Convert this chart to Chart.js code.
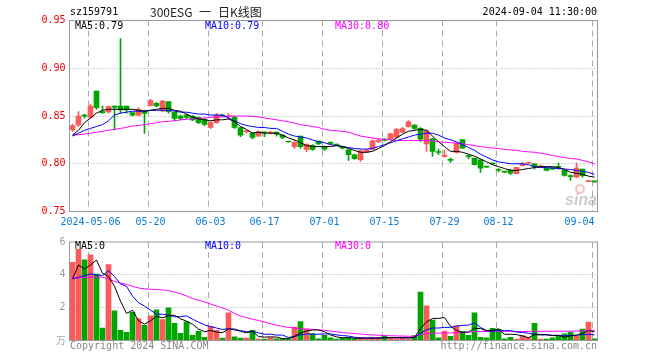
<!DOCTYPE html>
<html>
<head>
<meta charset="utf-8">
<script src="https://cdn.jsdelivr.net/npm/chart.js@4.4.1/dist/chart.umd.min.js"></script>
<style>
html, body { margin: 0; padding: 0; background: #fff; }
#wrap { position: relative; width: 660px; height: 360px; }
#kline { position: absolute; left: 0; top: 0; }
#vol { position: absolute; left: 0; top: 232px; }
</style>
</head>
<body>
<div id="wrap">
  <canvas id="kline" width="660" height="232"></canvas>
  <canvas id="vol" width="660" height="128"></canvas>
</div>
<script>
// trading days shown (2024)
const dates = [
  '04-26','04-29','04-30','05-06','05-07','05-08','05-09','05-10','05-13','05-14',
  '05-15','05-16','05-17','05-20','05-21','05-22','05-23','05-24','05-27','05-28',
  '05-29','05-30','05-31','06-03','06-04','06-05','06-06','06-07','06-11','06-12',
  '06-13','06-14','06-17','06-18','06-19','06-20','06-21','06-24','06-25','06-26',
  '06-27','06-28','07-01','07-02','07-03','07-04','07-05','07-08','07-09','07-10',
  '07-11','07-12','07-15','07-16','07-17','07-18','07-19','07-22','07-23','07-24',
  '07-25','07-26','07-29','07-30','07-31','08-01','08-02','08-05','08-06','08-07',
  '08-08','08-12','08-13','08-14','08-15','08-16','08-19','08-20','08-21','08-22',
  '08-23','08-26','08-27','08-28','08-29','08-30','09-03','09-04'
];

const openP = [
  0.8357,0.8406,0.8510,0.8486,0.8762,0.8545,0.8542,0.8605,0.8605,0.8605,
  0.8535,0.8510,0.8552,0.8612,0.8633,0.8552,0.8650,0.8538,0.8500,0.8510,
  0.8500,0.8486,0.8465,0.8381,0.8430,0.8510,0.8495,0.8486,0.8378,0.8336,
  0.8325,0.8290,0.8332,0.8322,0.8332,0.8300,0.8232,0.8178,0.8290,0.8150,
  0.8193,0.8238,0.8180,0.8218,0.8198,0.8180,0.8146,0.8094,0.8042,0.8122,
  0.8153,0.8233,0.8257,0.8257,0.8278,0.8330,0.8389,0.8406,0.8371,0.8208,
  0.8260,0.8125,0.8076,0.8040,0.8118,0.8252,0.8080,0.8060,0.8042,0.7967,
  0.8002,0.7938,0.7914,0.7937,0.7895,0.7980,0.8005,0.8000,0.7962,0.7955,
  0.7960,0.7967,0.7930,0.7870,0.7860,0.7944,0.7812,0.7812
];
const highP = [
  0.8416,0.8545,0.8520,0.8626,0.8762,0.8605,0.8605,0.8605,0.9310,0.8605,
  0.8535,0.8587,0.8563,0.8678,0.8643,0.8664,0.8650,0.8538,0.8510,0.8520,
  0.8505,0.8490,0.8475,0.8441,0.8528,0.8520,0.8528,0.8500,0.8378,0.8350,
  0.8325,0.8346,0.8336,0.8340,0.8332,0.8300,0.8232,0.8248,0.8290,0.8207,
  0.8200,0.8240,0.8185,0.8230,0.8205,0.8185,0.8146,0.8100,0.8146,0.8150,
  0.8250,0.8260,0.8260,0.8320,0.8370,0.8382,0.8451,0.8410,0.8380,0.8354,
  0.8265,0.8153,0.8146,0.8060,0.8222,0.8252,0.8094,0.8060,0.8042,0.7968,
  0.8005,0.7950,0.7915,0.7944,0.7962,0.8014,0.8008,0.8000,0.7985,0.7958,
  0.7962,0.8007,0.7930,0.7885,0.8007,0.7944,0.7818,0.7812
];
const lowP = [
  0.8336,0.8388,0.8480,0.8476,0.8570,0.8528,0.8530,0.8353,0.8530,0.8530,
  0.8500,0.8500,0.8318,0.8605,0.8594,0.8545,0.8530,0.8450,0.8460,0.8470,
  0.8450,0.8420,0.8400,0.8370,0.8423,0.8490,0.8465,0.8370,0.8283,0.8320,
  0.8260,0.8287,0.8283,0.8310,0.8290,0.8260,0.8225,0.8160,0.8160,0.8126,
  0.8140,0.8200,0.8140,0.8205,0.8190,0.8155,0.8035,0.8045,0.8024,0.8118,
  0.8146,0.8220,0.8240,0.8250,0.8268,0.8325,0.8382,0.8360,0.8233,0.8128,
  0.8076,0.8094,0.8070,0.8014,0.8112,0.8160,0.8050,0.7985,0.7910,0.7962,
  0.7995,0.7915,0.7910,0.7885,0.7895,0.7975,0.8002,0.7944,0.7960,0.7925,
  0.7940,0.7944,0.7870,0.7825,0.7855,0.7860,0.7812,0.7808
];
const closeP = [
  0.8399,0.8500,0.8497,0.8605,0.8587,0.8535,0.8598,0.8591,0.8563,0.8563,
  0.8510,0.8570,0.8528,0.8661,0.8605,0.8657,0.8545,0.8475,0.8475,0.8486,
  0.8458,0.8430,0.8413,0.8430,0.8510,0.8500,0.8500,0.8381,0.8300,0.8346,
  0.8276,0.8336,0.8322,0.8328,0.8310,0.8276,0.8228,0.8224,0.8178,0.8207,
  0.8150,0.8207,0.8153,0.8213,0.8195,0.8163,0.8094,0.8052,0.8135,0.8146,
  0.8240,0.8247,0.8247,0.8313,0.8361,0.8368,0.8438,0.8371,0.8257,0.8344,
  0.8128,0.8118,0.8087,0.8036,0.8215,0.8164,0.8075,0.7990,0.7955,0.7964,
  0.7998,0.7932,0.7912,0.7902,0.7962,0.8000,0.8007,0.7970,0.7979,0.7930,
  0.7944,0.7963,0.7878,0.7865,0.7955,0.7874,0.7816,0.7810
];

const ma5 = [
  0.830,0.835,0.843,0.848,0.853,0.856,0.857,0.857,0.857,0.857,
  0.857,0.856,0.855,0.856,0.857,0.858,0.858,0.856,0.855,0.852,
  0.849,0.847,0.846,0.845,0.846,0.846,0.847,0.844,0.839,0.836,
  0.832,0.833,0.832,0.832,0.832,0.830,0.827,0.825,0.822,0.819,
  0.818,0.818,0.818,0.818,0.819,0.818,0.816,0.814,0.812,0.812,
  0.813,0.816,0.819,0.823,0.827,0.831,0.834,0.835,0.836,0.835,
  0.829,0.823,0.818,0.813,0.813,0.812,0.810,0.808,0.805,0.802,
  0.799,0.797,0.795,0.793,0.793,0.794,0.795,0.796,0.797,0.797,
  0.797,0.796,0.794,0.791,0.790,0.789,0.787,0.786
];
const ma10 = [
  0.829,0.832,0.835,0.837,0.839,0.841,0.845,0.851,0.853,0.854,
  0.855,0.855,0.855,0.856,0.856,0.856,0.856,0.855,0.854,0.854,
  0.853,0.852,0.852,0.851,0.851,0.851,0.848,0.845,0.842,0.840,
  0.839,0.838,0.838,0.837,0.837,0.834,0.831,0.829,0.828,0.827,
  0.825,0.823,0.822,0.820,0.819,0.818,0.817,0.816,0.8155,0.8153,
  0.816,0.818,0.820,0.822,0.824,0.826,0.828,0.830,0.831,0.832,
  0.832,0.830,0.827,0.825,0.823,0.820,0.817,0.814,0.810,0.807,
  0.804,0.802,0.801,0.800,0.800,0.800,0.799,0.797,0.796,0.796,
  0.7955,0.795,0.7945,0.794,0.793,0.792,0.791,0.789
];
const ma30 = [
  0.830,0.8305,0.831,0.832,0.833,0.834,0.835,0.836,0.837,0.838,
  0.8395,0.840,0.841,0.842,0.843,0.844,0.8445,0.845,0.846,0.8465,
  0.847,0.8475,0.848,0.8485,0.849,0.849,0.8495,0.850,0.850,0.850,
  0.8495,0.849,0.848,0.847,0.846,0.845,0.844,0.8425,0.841,0.840,
  0.839,0.838,0.836,0.835,0.8345,0.834,0.833,0.831,0.829,0.828,
  0.827,0.826,0.8257,0.825,0.8245,0.8243,0.8243,0.8243,0.8243,0.8243,
  0.824,0.823,0.8225,0.822,0.8215,0.821,0.820,0.819,0.818,0.817,
  0.8165,0.816,0.815,0.8145,0.814,0.813,0.8125,0.812,0.811,0.810,
  0.8085,0.8075,0.8065,0.8055,0.805,0.8035,0.802,0.800
];

// volume, 万
const volume = [
  4.76,5.56,4.92,5.22,4.05,0.76,4.62,1.81,0.62,0.50,
  1.71,1.34,0.92,1.51,1.87,1.28,1.99,1.04,0.44,1.14,
  0.32,0.56,0.20,0.86,0.62,0.14,1.69,0.22,0.14,0.14,
  0.62,0.08,0.08,0.18,0.10,0.10,0.12,0.82,1.16,0.70,
  0.42,0.10,0.32,0.16,0.08,0.16,0.16,0.12,0.18,0.10,
  0.18,0.18,0.28,0.18,0.10,0.18,0.10,0.30,2.95,2.11,
  1.24,0.16,0.56,0.26,0.90,0.56,0.32,1.69,0.20,0.16,
  0.74,0.70,0.10,0.20,0.08,0.30,0.18,1.04,0.08,0.08,
  0.16,0.26,0.40,0.52,0.26,0.70,1.12,0.10
];
const volMa5 = [
  3.75,4.60,4.35,4.60,4.90,4.10,3.90,3.30,2.40,1.65,
  1.85,1.20,1.00,1.20,1.47,1.38,1.51,1.54,1.32,1.18,
  0.99,0.70,0.53,0.62,0.51,0.48,0.70,0.70,0.56,0.47,
  0.56,0.24,0.21,0.22,0.21,0.11,0.12,0.26,0.46,0.58,
  0.64,0.64,0.54,0.34,0.22,0.16,0.18,0.14,0.14,0.14,
  0.15,0.15,0.18,0.18,0.18,0.18,0.17,0.19,0.73,1.13,
  1.34,1.35,1.40,0.87,0.62,0.49,0.52,0.75,0.73,0.59,
  0.62,0.70,0.38,0.38,0.36,0.28,0.17,0.36,0.34,0.34,
  0.31,0.32,0.20,0.28,0.32,0.43,0.60,0.54
];
const volMa10 = [
  3.75,3.85,3.95,4.05,4.00,3.95,4.25,3.90,3.45,3.30,
  2.70,2.30,2.10,1.85,1.60,1.60,1.55,1.45,1.45,1.50,
  1.30,1.12,0.95,0.85,0.76,0.67,0.72,0.64,0.61,0.53,
  0.56,0.47,0.38,0.38,0.33,0.33,0.18,0.24,0.34,0.40,
  0.38,0.38,0.40,0.40,0.34,0.30,0.27,0.20,0.16,0.16,
  0.15,0.14,0.16,0.17,0.16,0.16,0.16,0.18,0.45,0.65,
  0.76,0.76,0.80,0.80,0.88,0.92,0.94,1.07,0.80,0.60,
  0.56,0.61,0.60,0.60,0.51,0.49,0.44,0.38,0.37,0.36,
  0.30,0.31,0.28,0.31,0.32,0.36,0.38,0.34
];
const volMa30 = [
  3.80,3.82,3.84,3.86,3.87,3.85,3.75,3.60,3.50,3.42,
  3.30,3.20,3.15,3.12,3.10,3.08,3.05,2.95,2.85,2.72,
  2.55,2.45,2.35,2.22,2.10,1.98,1.85,1.65,1.50,1.40,
  1.30,1.22,1.12,1.02,0.93,0.86,0.80,0.76,0.72,0.70,
  0.68,0.65,0.62,0.58,0.54,0.48,0.45,0.42,0.40,0.36,
  0.34,0.32,0.30,0.29,0.28,0.27,0.26,0.26,0.36,0.42,
  0.45,0.45,0.46,0.46,0.48,0.50,0.50,0.55,0.55,0.55,
  0.56,0.57,0.56,0.56,0.55,0.55,0.55,0.57,0.56,0.56,
  0.56,0.57,0.57,0.57,0.58,0.59,0.62,0.62
];

const priceTicks = [0.75, 0.80, 0.85, 0.90, 0.95];
const volTicks = [0, 2, 4, 6];
const tickDates = ['05-06', '05-20', '06-03', '06-17', '07-01', '07-15', '07-29', '08-12', '09-04'];
const tickLabels = ['2024-05-06', '05-20', '06-03', '06-17', '07-01', '07-15', '07-29', '08-12', '09-04     '];

const RED = '#fa5a5a';
const GREEN = '#00a600';
const MONO = '10px "DejaVu Sans Mono"';

Chart.defaults.font.family = '"DejaVu Sans Mono"';
Chart.defaults.font.size = 10;

const isUp = i => closeP[i] >= openP[i];
const candleColor = c => isUp(c.dataIndex) ? RED : GREEN;
const tickIdx = tickDates.map(d => dates.indexOf(d));

// grid, frame and the texts that sit on top of the plots
const frame = {
  id: 'frame',
  beforeDatasetsDraw(chart, args, opts) {
    const {ctx, chartArea: a, scales} = chart;
    ctx.save();
    ctx.strokeStyle = '#aaa';
    ctx.lineWidth = 1;
    ctx.setLineDash([6, 4]);
    tickIdx.forEach(i => {
      const x = Math.floor(scales.x.getPixelForValue(i) - 2.5) + 0.5;
      ctx.beginPath();
      ctx.moveTo(x, a.top);
      ctx.lineTo(x, a.bottom);
      ctx.stroke();
    });
    ctx.setLineDash([1, 2]);
    opts.yTicks.slice(1, -1).forEach(v => {
      const y = Math.floor(scales.y.getPixelForValue(v)) + 0.5;
      ctx.beginPath();
      ctx.moveTo(a.left, y);
      ctx.lineTo(a.right, y);
      ctx.stroke();
    });
    ctx.setLineDash([]);
    if (opts.sina) {
      ctx.strokeStyle = 'rgba(240,120,120,0.45)';
      ctx.lineWidth = 2;
      ctx.beginPath();
      ctx.arc(580, 189, 4, 0, Math.PI * 2);
      ctx.stroke();
      ctx.font = 'bold italic 16px "Liberation Sans"';
      ctx.fillStyle = 'rgba(150,150,150,0.5)';
      ctx.fillText('sina', 565, 205);
    }
    ctx.restore();
  },
  afterDraw(chart, args, opts) {
    const {ctx, chartArea: a} = chart;
    ctx.save();
    ctx.strokeStyle = '#999';
    ctx.lineWidth = 1;
    ctx.strokeRect(a.left, a.top, a.right - a.left, a.bottom - a.top);
    ctx.textBaseline = 'middle';
    (opts.texts || []).forEach(t => {
      ctx.font = t.font || MONO;
      ctx.fillStyle = t.color;
      ctx.textAlign = t.align || 'left';
      ctx.fillText(t.text, t.x, t.y);
    });
    ctx.restore();
  }
};

const CJK = '12px "Noto Sans CJK SC"';

new Chart(document.getElementById('kline'), {
  type: 'bar',
  data: {
    labels: dates,
    datasets: [
      { type: 'line', data: ma5, borderColor: '#000', borderWidth: 1, pointRadius: 0, order: 0 },
      { type: 'line', data: ma10, borderColor: '#0000ff', borderWidth: 1, pointRadius: 0, order: 0 },
      { type: 'line', data: ma30, borderColor: '#ff00ff', borderWidth: 1, pointRadius: 0, order: 0 },
      { data: dates.map((d, i) => [openP[i], closeP[i]]), backgroundColor: candleColor,
        barThickness: 5, minBarLength: 1, grouped: false, order: 1 },
      { data: dates.map((d, i) => [lowP[i], highP[i]]), backgroundColor: candleColor,
        barThickness: 1, grouped: false, order: 2 }
    ]
  },
  options: {
    responsive: false,
    animation: false,
    devicePixelRatio: 1,
    layout: { padding: { left: 0, right: 62.5, top: 20.5, bottom: 0.5 } },
    plugins: {
      legend: { display: false },
      tooltip: { enabled: false },
      frame: {
        sina: true,
        yTicks: priceTicks,
        texts: [
          { text: 'sz159791', x: 70, y: 12.5, color: '#000' },
          { text: '300ESG', x: 150, y: 12, color: '#222', font: CJK },
          { text: '一', x: 199, y: 12, color: '#222', font: CJK },
          { text: '日K线图', x: 218, y: 12, color: '#222', font: CJK },
          { text: '2024-09-04 11:30:00', x: 597, y: 12.5, color: '#000', align: 'right' },
          { text: 'MA5:0.79', x: 75, y: 26, color: '#000' },
          { text: 'MA10:0.79', x: 205, y: 26, color: '#0000ff' },
          { text: 'MA30:0.80', x: 335, y: 26, color: '#ff00ff' }
        ]
      }
    },
    scales: {
      x: {
        offset: true,
        afterFit: s => { s.height = 20; },
        grid: { display: false, drawTicks: false },
        border: { display: false },
        ticks: {
          autoSkip: false, maxRotation: 0, minRotation: 0, padding: 5, color: '#0a7ad4',
          callback: (v, i) => {
            const k = tickIdx.indexOf(i);
            return k < 0 ? '' : tickLabels[k];
          }
        }
      },
      y: {
        min: 0.75,
        max: 0.95,
        afterFit: s => { s.width = 69.5; },
        afterBuildTicks: s => { s.ticks = priceTicks.map(v => ({ value: v })); },
        grid: { display: false, drawTicks: false },
        border: { display: false },
        ticks: { color: '#ee0000', padding: 4, callback: v => v.toFixed(2) }
      }
    }
  },
  plugins: [frame]
});

new Chart(document.getElementById('vol'), {
  type: 'bar',
  data: {
    labels: dates,
    datasets: [
      { type: 'line', data: volMa5, borderColor: '#000', borderWidth: 1, pointRadius: 0, order: 0 },
      { type: 'line', data: volMa10, borderColor: '#0000ff', borderWidth: 1, pointRadius: 0, order: 0 },
      { type: 'line', data: volMa30, borderColor: '#ff00ff', borderWidth: 1, pointRadius: 0, order: 0 },
      { data: volume, backgroundColor: candleColor, barThickness: 5, order: 1 }
    ]
  },
  options: {
    responsive: false,
    animation: false,
    devicePixelRatio: 1,
    layout: { padding: { left: 0, right: 62.5, top: 8.5, bottom: 19.5 } },
    plugins: {
      legend: { display: false },
      tooltip: { enabled: false },
      frame: {
        yTicks: volTicks,
        texts: [
          { text: 'MA5:0', x: 75, y: 14, color: '#000' },
          { text: 'MA10:0', x: 205, y: 14, color: '#0000ff' },
          { text: 'MA30:0', x: 335, y: 14, color: '#ff00ff' },
          { text: '万', x: 66, y: 108, color: '#aaa', align: 'right', font: '10px "Noto Sans CJK SC"' },
          { text: 'Copyright 2024 SINA.COM', x: 70, y: 114, color: '#888' },
          { text: 'http://finance.sina.com.cn', x: 597, y: 114, color: '#888', align: 'right' }
        ]
      }
    },
    scales: {
      x: {
        offset: true,
        afterFit: s => { s.height = 0; },
        grid: { display: false, drawTicks: false },
        border: { display: false },
        ticks: { display: false, autoSkip: false }
      },
      y: {
        min: 0,
        max: 6,
        afterFit: s => { s.width = 69.5; },
        afterBuildTicks: s => { s.ticks = volTicks.map(v => ({ value: v })); },
        grid: { display: false, drawTicks: false },
        border: { display: false },
        ticks: { color: '#999', padding: 4, callback: v => v === 0 ? '' : String(v) }
      }
    }
  },
  plugins: [frame]
});
</script>
</body>
</html>
